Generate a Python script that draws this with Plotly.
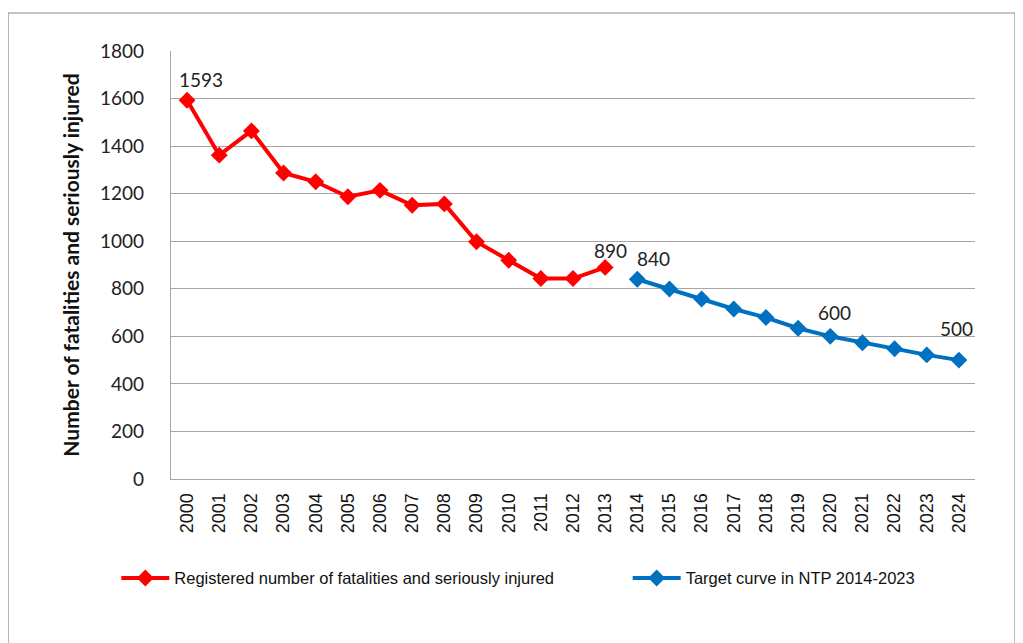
import plotly.graph_objects as go

years = [str(y) for y in range(2000, 2025)]

registered_years = years[:14]
registered = [1593, 1362, 1464, 1287, 1250, 1187, 1214, 1151, 1157, 998, 920, 843, 843, 890]

target_years = years[14:]
target = [840, 799, 757, 715, 679, 634, 600, 573, 548, 522, 500]

labeled_years = ['2000', '2013', '2014', '2020', '2024']

RED = '#FF0000'
BLUE = '#0070C0'
GRID = '#A6A6A6'
LABEL_FONT = {'size': 19, 'color': '#222', 'family': 'Lato'}
LEGEND_FONT = {'family': 'Liberation Sans', 'size': 16.5, 'color': '#111'}
# label offsets (px) as placed in the original chart
LABEL_SHIFT = {'2000': (14, 21), '2013': (5, 17), '2014': (16, 21), '2020': (4, 24), '2024': (-2, 32)}

fig = go.Figure()
fig.add_trace(go.Scatter(
    x=registered_years, y=registered, mode='lines+markers',
    name='Registered number of fatalities and seriously injured', legend='legend',
    line={'color': RED, 'width': 4}, marker={'symbol': 'diamond', 'size': 13, 'color': RED},
))
fig.add_trace(go.Scatter(
    x=target_years, y=target, mode='lines+markers',
    name='Target curve in NTP 2014-2023', legend='legend2',
    line={'color': BLUE, 'width': 4}, marker={'symbol': 'diamond', 'size': 13, 'color': BLUE},
))

values = dict(zip(registered_years + target_years, registered + target))
for yr in labeled_years:
    dx, dy = LABEL_SHIFT[yr]
    # category axis: annotations take the category index
    fig.add_annotation(x=years.index(yr), y=values[yr], text=str(values[yr]), showarrow=False,
                       xshift=dx, yshift=dy, font=LABEL_FONT)

# outer chart frame
fig.add_shape(type='rect', xref='paper', yref='paper',
              x0=-0.2027, x1=1.0498, y0=-0.42, y1=1.0888,
              line={'color': '#8C8C8C', 'width': 1.2}, fillcolor='rgba(0,0,0,0)', layer='below')

fig.update_layout(
    width=1023, height=643, paper_bgcolor='white', plot_bgcolor='white',
    margin={'l': 163, 'r': 56, 't': 43, 'b': 172},
    font={'family': 'Lato', 'color': '#222'},
    showlegend=True,
    legend={'orientation': 'h', 'x': -0.068, 'xanchor': 'left', 'y': -0.232, 'yanchor': 'middle',
            'font': LEGEND_FONT, 'bgcolor': 'rgba(0,0,0,0)', 'itemwidth': 48},
    legend2={'orientation': 'h', 'x': 0.568, 'xanchor': 'left', 'y': -0.232, 'yanchor': 'middle',
             'font': LEGEND_FONT, 'bgcolor': 'rgba(0,0,0,0)', 'itemwidth': 48},
    xaxis={'type': 'category', 'categoryorder': 'array', 'categoryarray': years,
           'range': [-0.5, 24.5], 'tickangle': -90, 'showgrid': False,
           'showline': True, 'linecolor': GRID, 'linewidth': 1.2,
           'ticks': '', 'ticklabelstandoff': 6,
           'tickfont': {'family': 'Liberation Sans', 'size': 18, 'color': '#111'}},
    yaxis={'range': [0, 1800], 'dtick': 200, 'showgrid': True, 'gridcolor': GRID, 'gridwidth': 1.2,
           'showline': True, 'linecolor': GRID, 'linewidth': 1.2, 'zeroline': False,
           'ticks': '', 'ticklabelstandoff': 22,
           'tickfont': {'family': 'Lato', 'size': 19, 'color': '#222'},
           'title': {'text': '<b>Number of fatalities and seriously injured</b>', 'standoff': 14,
                     'font': {'family': 'Lato', 'size': 21, 'color': '#111'}}},
)

fig.write_html("out.html")
